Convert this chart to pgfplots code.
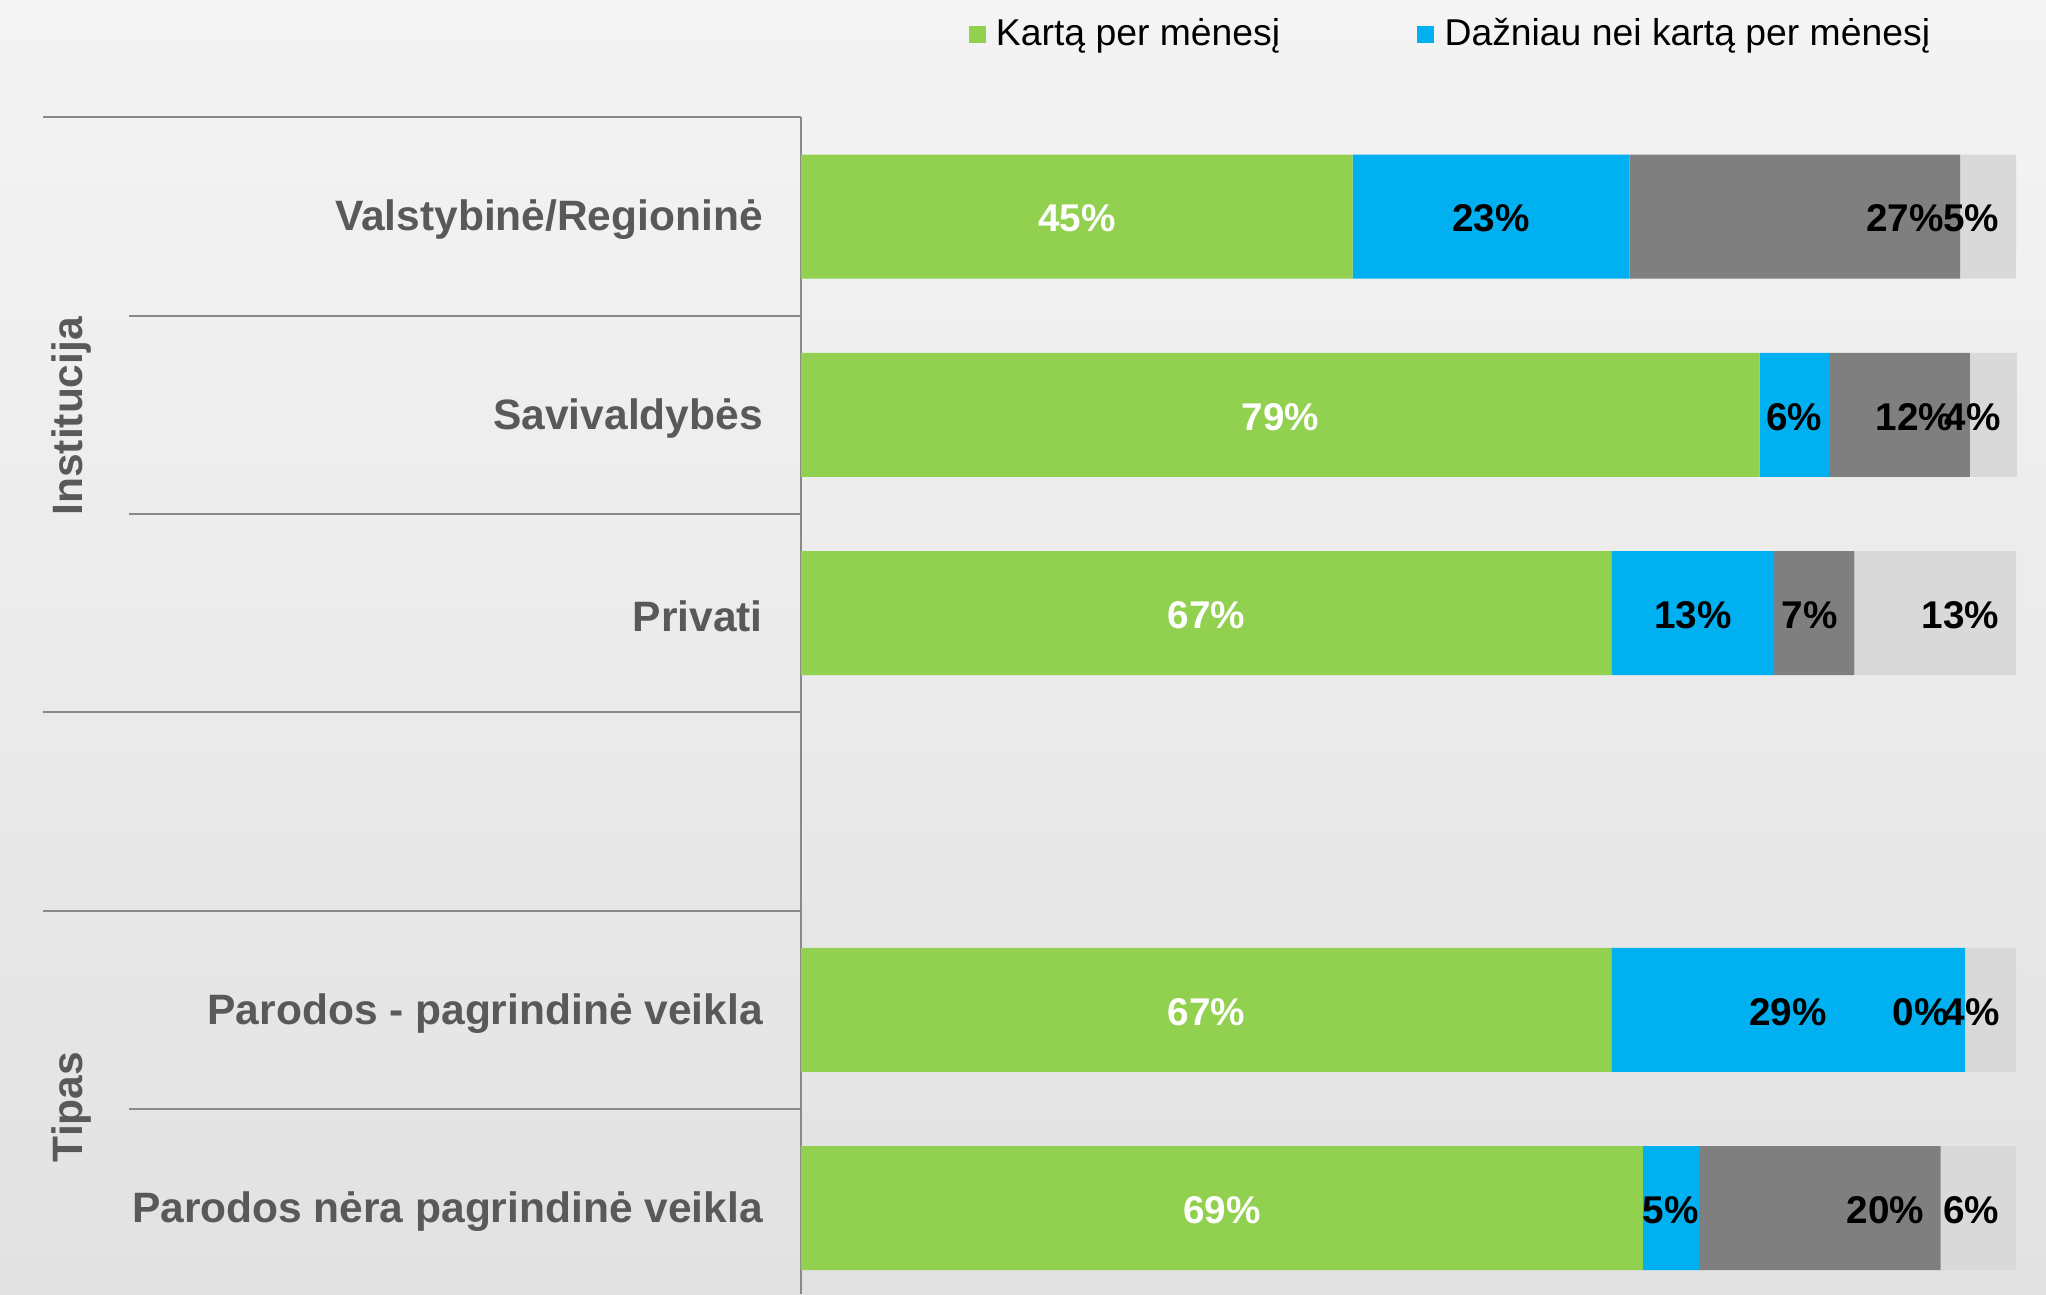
\documentclass[border=0pt]{standalone}
\usepackage{pgfplots}
\usepackage{pgfplotstable}
\pgfplotsset{compat=1.18}
\usepackage{fontspec}
\setmainfont{Liberation Sans}

\definecolor{cgreen}{HTML}{92D050}
\definecolor{cblue}{HTML}{00B0F0}
\definecolor{cgrey}{HTML}{7F7F7F}
\definecolor{clight}{HTML}{D9D9D9}
\definecolor{labgray}{HTML}{595959}
\definecolor{linegray}{HTML}{898989}
\definecolor{bgtop}{HTML}{F4F4F4}
\definecolor{bgbot}{HTML}{E2E2E2}

% shares per row (row 3 is the empty gap between the two groups)
\pgfplotstableread{
y a    b    c    d
0 45.4 22.8 27.2 4.6
1 78.9 5.7  11.6 3.9
2 66.7 13.4 6.6  13.3
4 66.7 29.1 0.01 4.2
5 69.3 4.6  19.9 6.2
}\shares

\begin{document}
\begin{tikzpicture}
\fill[top color=bgtop, bottom color=bgbot] (0pt,0pt) rectangle (613.8pt,-388.2pt);

% row separators on the label side
\draw[linegray, line width=0.6pt] (12.9pt,-35.2pt) -- (240.3pt,-35.2pt);
\draw[linegray, line width=0.6pt] (38.8pt,-94.7pt) -- (240.3pt,-94.7pt);
\draw[linegray, line width=0.6pt] (38.8pt,-154.2pt) -- (240.3pt,-154.2pt);
\draw[linegray, line width=0.6pt] (12.9pt,-213.7pt) -- (240.3pt,-213.7pt);
\draw[linegray, line width=0.6pt] (12.9pt,-273.2pt) -- (240.3pt,-273.2pt);
\draw[linegray, line width=0.6pt] (38.8pt,-332.7pt) -- (240.3pt,-332.7pt);

\node[rotate=90, anchor=base, text=labgray, font=\fontsize{12.75}{15}\selectfont\bfseries]
  at (24.7pt,-124.9pt) {Institucija};
\node[rotate=90, anchor=base, text=labgray, font=\fontsize{12.75}{15}\selectfont\bfseries]
  at (24.7pt,-332.1pt) {Tipas};

% nodes near coords sit at the segment centres; 100 units = 364.5pt,
% so the segment end is \seg * 1.8225pt further right
\begin{axis}[
  at={(240.3pt,-388.2pt)}, anchor=south west,
  width=364.5pt, height=353pt, scale only axis,
  xbar stacked, bar width=37.2pt,
  xmin=0, xmax=100, ymin=-0.5, ymax=5.433, y dir=reverse,
  axis x line=none, axis y line=left,
  axis line style={-, draw=linegray, line width=0.6pt},
  xtick=\empty, ytick={0,1,2,4,5},
  yticklabels={Valstybinė/Regioninė, Savivaldybės, Privati,
    Parodos - pagrindinė veikla\hspace{3.5pt}, Parodos nėra pagrindinė veikla},
  major tick length=0pt,
  yticklabel style={anchor=east, inner sep=0pt, xshift=-11.3pt, yshift=-1pt,
    font=\fontsize{12.75}{15}\selectfont\bfseries, text=labgray},
  clip=false,
  /pgf/number format/assume math mode=true,
  point meta=explicit,
  nodes near coords={\pgfmathprintnumber[fixed,precision=0]{\pgfplotspointmeta}\%},
  nodes near coords style={font=\fontsize{11.6}{13}\selectfont\bfseries, inner sep=0pt,
    yshift=-0.6pt},
  legend image code/.code={\fill[#1] (0pt,-2.55pt) rectangle (5.1pt,2.55pt);},
  legend columns=2,
  legend style={draw=none, fill=none, inner sep=0pt,
    at={(axis description cs:0.1374,1.0704)}, anchor=west,
    font=\fontsize{11.2}{13}\selectfont,
    nodes={inner sep=0pt},
    /tikz/every odd column/.append style={column sep=3.1pt},
    /tikz/every even column/.append style={column sep=41.1pt}},
]
\addplot[fill=cgreen, draw=none,
  every node near coord/.append style={text=white, anchor=center}]
  table[x=a, y=y, meta=a] {\shares};
\addplot[fill=cblue, draw=none,
  every node near coord/.append style={text=black, anchor=center}]
  table[x=b, y=y, meta=b] {\shares};
\addplot[fill=cgrey, draw=none,
  visualization depends on={\thisrow{c} \as \seg},
  every node near coord/.append style={text=black, anchor=east,
    xshift={\seg*1.8225pt-4.8pt}}]
  table[x=c, y=y, meta=c] {\shares};
\addplot[fill=clight, draw=none,
  visualization depends on={\thisrow{d} \as \seg},
  every node near coord/.append style={text=black, anchor=east,
    xshift={\seg*1.8225pt-4.8pt}}]
  table[x=d, y=y, meta=d] {\shares};
\legend{Kartą per mėnesį, Dažniau nei kartą per mėnesį}
\end{axis}
\end{tikzpicture}
\end{document}
